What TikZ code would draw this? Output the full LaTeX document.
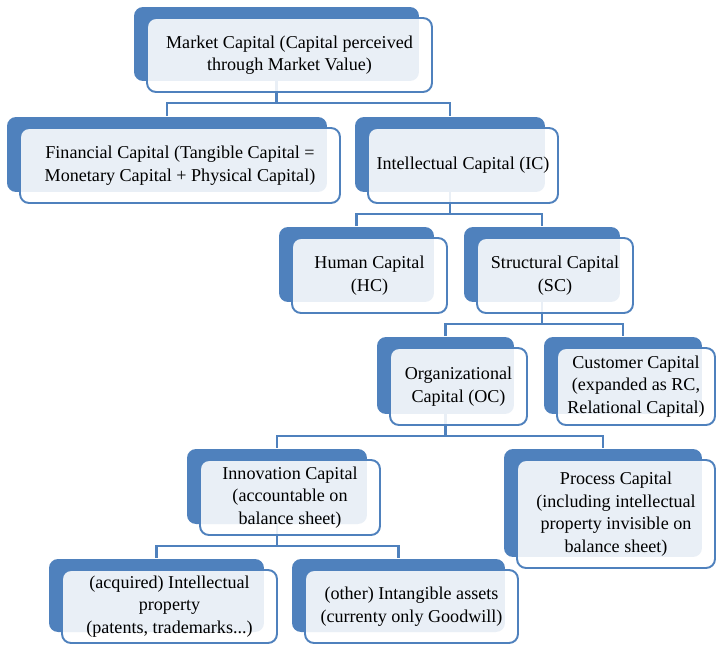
\documentclass[tikz,border=0pt]{standalone}
\usepackage{fontspec}
\setmainfont{Liberation Serif}
\usepackage{tikz}
\usetikzlibrary{calc,shadows,backgrounds}

\definecolor{boxblue}{HTML}{4F81BD}

\tikzset{
	capbox/.style={draw=boxblue, line width=1.1pt, rounded corners=0.18cm,
		fill=white, fill opacity=0.88, text opacity=1, align=center, inner sep=0pt,
		font=\fontsize{10.3}{12.8}\selectfont,
		general shadow={fill=boxblue, fill opacity=1, draw=none,
			shadow xshift=-0.26cm, shadow yshift=0.22cm}},
	link/.style={draw=boxblue, line width=1.6pt}
}

\begin{document}
\begin{tikzpicture}[x=0.02cm,y=-0.02cm]
			\useasboundingbox (0,0) rectangle (716,645);
			\node[capbox, minimum width=5.7cm, minimum height=1.48cm] (mkt) at (289.5,55)
				{Market Capital (Capital perceived\\through Market Value)};
			\node[capbox, minimum width=6.4cm, minimum height=1.5cm] (fin) at (180,165.5)
				{Financial Capital (Tangible Capital =\\Monetary Capital + Physical Capital)};
			\node[capbox, minimum width=3.8cm, minimum height=1.5cm] (ic) at (463,165.5)
				{Intellectual Capital (IC)};
			\node[capbox, minimum width=3.1cm, minimum height=1.5cm] (hc) at (369.5,275.5)
				{Human Capital\\(HC)};
			\node[capbox, minimum width=3.12cm, minimum height=1.5cm] (sc) at (555,275.5)
				{Structural Capital\\(SC)};
			\node[capbox, minimum width=2.74cm, minimum height=1.54cm] (oc) at (458.5,386.5)
				{Organizational\\Capital (OC)};
			\node[capbox, minimum width=3.16cm, minimum height=1.54cm] (cc) at (636,386.5)
				{Customer Capital\\(expanded as RC,\\Relational Capital)};
			\node[capbox, minimum width=3.6cm, minimum height=1.5cm] (inn) at (290,497.5)
				{Innovation Capital\\(accountable on\\balance sheet)};
			\node[capbox, minimum width=3.96cm, minimum height=2.16cm] (pc) at (616,514)
				{Process Capital\\(including intellectual\\property invisible on\\balance sheet)};
			\node[capbox, minimum width=4.3cm, minimum height=1.46cm] (ip) at (169.5,606.5)
				{(acquired) Intellectual\\property\\(patents, trademarks...)};
			\node[capbox, minimum width=4.26cm, minimum height=1.46cm] (ia) at (411.5,606.5)
				{(other) Intangible assets\\(currenty only Goodwill)};
			% tree lines, behind the boxes
			\begin{pgfonlayer}{background}
			\foreach \p / \c in {mkt/fin,mkt/ic,ic/hc,ic/sc,sc/oc,sc/cc,oc/inn,oc/pc,inn/ip,inn/ia}
			\draw[link] ($(\p.south)+(-13,-12)$) -- ++(0,22) -| ($(\c.north)+(-13,-11)$);
			\end{pgfonlayer}
	\end{tikzpicture}
\end{document}
